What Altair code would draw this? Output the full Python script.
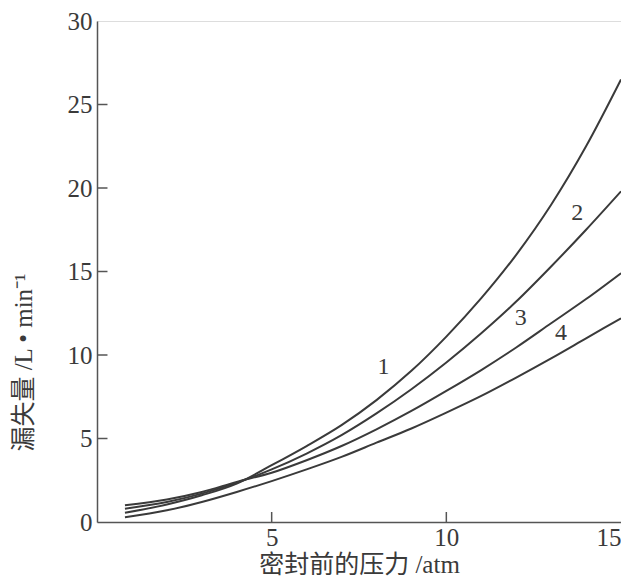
import altair as alt
import pandas as pd

# pressure before sealing (atm)
x_vals = [0.8, 2, 3, 4, 5, 6, 7, 8, 9, 10, 11, 12, 13, 14, 15]
# leakage (L/min) for curves 1-4
c1 = [0.55, 1.05, 1.6, 2.3, 3.4, 4.55, 5.8, 7.3, 9.05, 11.1, 13.4, 16.0, 19.0, 22.5, 26.5]
c2 = [0.8, 1.2, 1.7, 2.35, 3.15, 4.1, 5.2, 6.5, 7.95, 9.55, 11.3, 13.2, 15.3, 17.5, 19.8]
c3 = [1.0, 1.35, 1.8, 2.4, 2.95, 3.7, 4.55, 5.55, 6.65, 7.85, 9.1, 10.45, 11.9, 13.35, 14.9]
c4 = [0.28, 0.7, 1.2, 1.8, 2.45, 3.15, 3.9, 4.75, 5.6, 6.55, 7.55, 8.65, 9.8, 11.0, 12.2]
series_names = ["1", "2", "3", "4"]

label_text = ["1", "2", "3", "4"]
label_x = [8.2, 13.75, 12.13, 13.28]
label_y = [9.3, 18.5, 12.2, 11.3]

y_ticks = [0, 5, 10, 15, 20, 25, 30]
x_ticks = [5, 10, 15]
y_inner_ticks = [5, 10, 15, 20, 25]
x_inner_ticks = [5, 10]

rows = []
for name, ys in zip(series_names, [c1, c2, c3, c4]):
    for xv, yv in zip(x_vals, ys):
        rows.append({"x": xv, "y": yv, "s": name})
df = pd.DataFrame(rows)
labels_df = pd.DataFrame({"t": label_text, "x": label_x, "y": label_y})
yt_df = pd.DataFrame({"y": y_inner_ticks, "x0": [0] * len(y_inner_ticks), "x1": [0.3] * len(y_inner_ticks)})
xt_df = pd.DataFrame({"x": x_inner_ticks, "y0": [0] * len(x_inner_ticks), "y1": [0.6] * len(x_inner_ticks)})

SERIF = "Liberation Serif, Noto Sans CJK SC"
INK = "#3a3a3a"

xscale = alt.Scale(domain=[0, 15], nice=False, zero=False)
yscale = alt.Scale(domain=[0, 30], nice=False)

xaxis = alt.Axis(values=x_ticks, title="密封前的压力 /atm", grid=False, tickSize=0,
                 labelPadding=3, labelFontSize=25, labelFont=SERIF, labelColor=INK,
                 titleFont=SERIF, titleFontSize=25, titleFontWeight="normal", titleColor=INK,
                 titlePadding=2, domainColor="#555", domainWidth=1.5,
                 labelFlush=True, labelFlushOffset=0)
yaxis = alt.Axis(values=y_ticks, title="漏失量 /L • min⁻¹", grid=False, tickSize=0,
                 labelPadding=5, labelFontSize=25, labelFont=SERIF, labelColor=INK,
                 titleFont=SERIF, titleFontSize=25, titleFontWeight="normal", titleColor=INK,
                 titleX=-74, titleY=341, titleAlign="center", titleBaseline="middle",
                 domainColor="#555", domainWidth=1.5, labelFlush=False)

lines = alt.Chart(df).mark_line(interpolate="monotone", color=INK, strokeWidth=2).encode(
    x=alt.X("x:Q", scale=xscale, axis=xaxis),
    y=alt.Y("y:Q", scale=yscale, axis=yaxis),
    detail="s:N",
)

texts = alt.Chart(labels_df).mark_text(font=SERIF, fontSize=24, color=INK).encode(
    x=alt.X("x:Q", scale=xscale),
    y=alt.Y("y:Q", scale=yscale),
    text="t:N",
)

yt = alt.Chart(yt_df).mark_rule(color="#555", strokeWidth=1.5).encode(
    x=alt.X("x0:Q", scale=xscale), x2="x1:Q", y=alt.Y("y:Q", scale=yscale)
)
xt = alt.Chart(xt_df).mark_rule(color="#555", strokeWidth=1.5).encode(
    x=alt.X("x:Q", scale=xscale), y=alt.Y("y0:Q", scale=yscale), y2="y1:Q"
)

chart = alt.layer(lines, texts, yt, xt).properties(
    width=524, height=501,
    autosize=alt.AutoSizeParams(type="none"),
    padding={"left": 89, "top": 13, "right": 0, "bottom": 57},
).configure_view(stroke="#555", strokeWidth=1.5).configure(background="white")

chart.save("out.html", embed_options={"renderer": "svg", "actions": False})
